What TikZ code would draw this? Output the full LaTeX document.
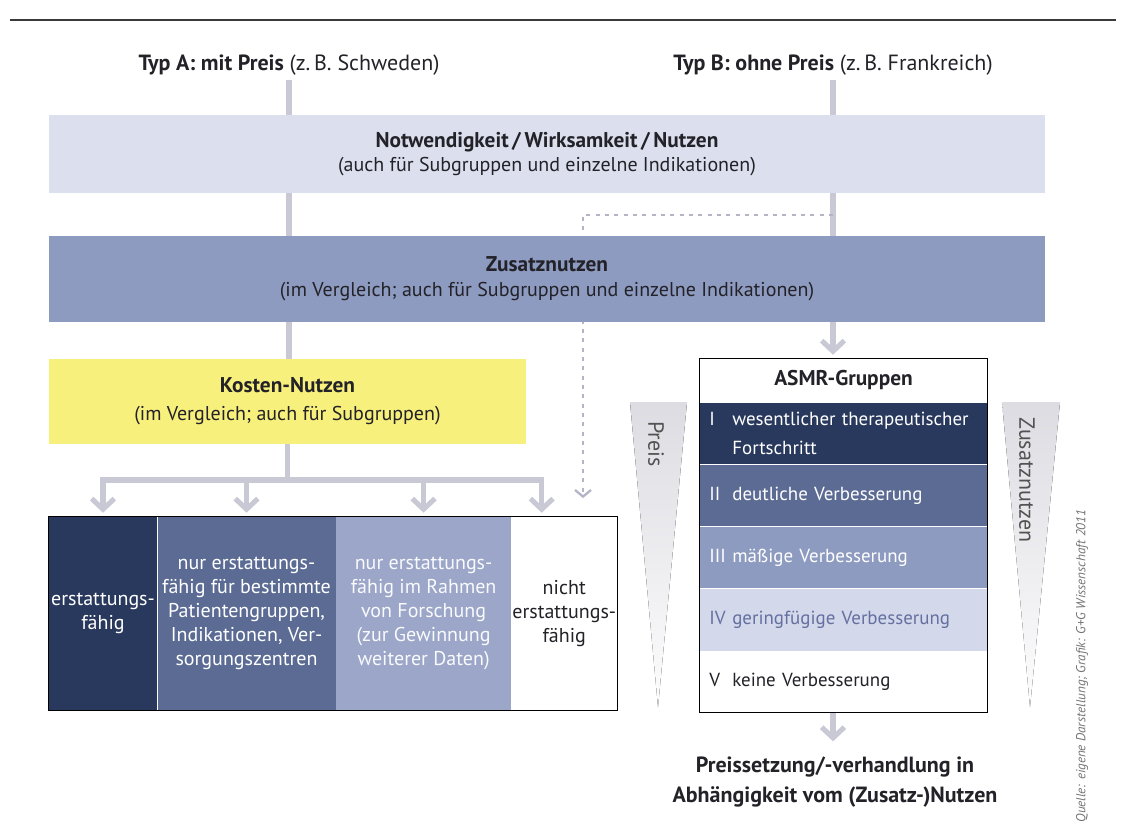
\documentclass[tikz,border=0pt]{standalone}
\usepackage{fontspec}
\setmainfont{PT Sans}
\usepackage{tikz}
\usetikzlibrary{arrows.meta,positioning,backgrounds}
\definecolor{ink}{HTML}{222228}
\definecolor{rulegray}{HTML}{3A3A3A}
\definecolor{linkgray}{HTML}{C9C9D5}
\definecolor{dashgray}{HTML}{B4B4C6}
\definecolor{paleblue}{HTML}{DCE0EE}
\definecolor{midblue}{HTML}{8E9BC0}
\definecolor{kostgelb}{HTML}{F8F07C}
\definecolor{navy}{HTML}{29385D}
\definecolor{slate}{HTML}{5B6B94}
\definecolor{lavender}{HTML}{9BA6C8}
\definecolor{mist}{HTML}{D3D8EA}
\definecolor{mistink}{HTML}{6470A0}
\definecolor{wedge}{HTML}{DCDCE2}
\newcommand{\asmrnum}[1]{\makebox[17.25pt][l]{#1}}

\begin{document}
\begin{tikzpicture}[x=0.75pt, y=-0.75pt,
    every node/.style={text=ink},
    head/.style={font=\fontsize{16.5}{19}\selectfont},
    bigbox/.style={minimum width=747pt, inner sep=0pt, align=center, font=\fontsize{15}{18.5}\selectfont},
    colbox/.style={minimum height=144.75pt, inner sep=1pt, align=center, font=\fontsize{15}{18}\selectfont},
    asmrrow/.style={minimum width=215.25pt, minimum height=46.2pt, text width=201.25pt, inner xsep=7pt, inner ysep=0pt, align=left, font=\fontsize{14.2}{22}\selectfont},
    link/.style={draw=linkgray, line width=3.8pt},
    arr/.style={link, -{Straight Barb[length=8pt,width=17pt]}, shorten >=3pt},
    dashlink/.style={draw=dashgray, line width=1.7pt, dash pattern=on 3pt off 4pt, -{Straight Barb[length=5pt,width=12pt]}},
    wedgefill/.style={top color=wedge, bottom color=white!94!wedge, draw=none}
]
    \useasboundingbox (0,0) rectangle (1126,839);
    \draw[rulegray, line width=1.8pt] (10,20) -- (1116,20);

    % Kopfzeilen
    \node[head] (typA) at (289,65) {\textbf{Typ A: mit Preis} (z.\,B. Schweden)};
    \node[head] (typB) at (833,65) {\textbf{Typ B: ohne Preis} (z.\,B. Frankreich)};

    % Stufen
    \node[bigbox, fill=paleblue, minimum height=58.5pt] (notw) at (547,154) {
        {\bfseries\fontsize{16}{18.5}\selectfont Notwendigkeit\,/\,Wirksamkeit\,/\,Nutzen}\\
        (auch für Subgruppen und einzelne Indikationen)
    };
    \node[bigbox, fill=midblue, minimum height=64.5pt] (zus) at (547,279) {
        {\bfseries\fontsize{16}{18.5}\selectfont Zusatznutzen}\\
        (im Vergleich; auch für Subgruppen und einzelne Indikationen)
    };
    \node[bigbox, fill=kostgelb, minimum width=357.75pt, minimum height=63.75pt, font=\fontsize{15}{21}\selectfont] (kosten) at (287.5,401.5) {
        {\bfseries\fontsize{16}{21}\selectfont Kosten-Nutzen}\\
        (im Vergleich; auch für Subgruppen)
    };

    % Erstattung (Typ A)
    \node[colbox, fill=navy, text=white, minimum width=81pt] (erst) at (103,613.5) {erstattungs-\\fähig};
    \node[colbox, fill=slate, text=white, minimum width=133.5pt, right=0pt of erst] (nurbest) {
        nur erstattungs-\\fähig für bestimmte\\Patientengruppen,\\Indikationen, Ver-\\sorgungszentren};
    \node[colbox, fill=lavender, text=white!94!lavender, minimum width=131.25pt, right=0pt of nurbest] (nurfor) {
        nur erstattungs-\\fähig im Rahmen\\von Forschung\\(zur Gewinnung\\weiterer Daten)};
    \node[colbox, fill=white, minimum width=78.75pt, right=0pt of nurbest, xshift=131.25pt] (nicht) {nicht\\erstattungs-\\fähig};
    \draw[black, line width=0.8pt] (erst.north west) rectangle (nicht.south east);

    % ASMR (Typ B)
    \node[minimum width=215.25pt, minimum height=32.25pt, inner sep=0pt, font=\bfseries\fontsize{16}{19}\selectfont] (asmrkopf) at (843.5,380.5) {ASMR-Gruppen};
    \node[asmrrow, fill=navy, text=white, below=0pt of asmrkopf] (asmrI) {\asmrnum{I}\parbox[t]{186pt}{\raggedright wesentlicher therapeutischer\\Fortschritt}};
    \node[asmrrow, fill=slate, text=white, below=0pt of asmrI] (asmrII) {\asmrnum{II}deutliche Verbesserung};
    \node[asmrrow, fill=midblue, text=white, below=0pt of asmrII] (asmrIII) {\asmrnum{III}mäßige Verbesserung};
    \node[asmrrow, fill=mist, text=mistink, below=0pt of asmrIII] (asmrIV) {\asmrnum{IV}geringfügige Verbesserung};
    \node[asmrrow, fill=white, below=0pt of asmrIV] (asmrV) {\asmrnum{V}keine Verbesserung};
    \draw[black, line width=0.8pt] (asmrkopf.north west) rectangle (asmrV.south east);

    % Keile
    \fill[wedgefill] (630,402) -- (687,402) -- (658,707) -- cycle;
    \fill[wedgefill] (1002,402) -- (1060,402) -- (1030,707) -- cycle;
    \node[rotate=-90, text=black!68, font=\fontsize{16.5}{19}\selectfont] (preis) at (656,444) {Preis};
    \node[rotate=-90, text=black!68, font=\fontsize{16.5}{19}\selectfont] (zusnutz) at (1027,480) {Zusatznutzen};

    \node[align=center, font=\bfseries\fontsize{16.5}{22.5}\selectfont] (verhandlung) at (835,782) {
        Preissetzung/-verhandlung in\\Abhängigkeit vom (Zusatz-)Nutzen};

    \node[rotate=90, anchor=east, text=black!55, font=\itshape\fontsize{9.8}{12}\selectfont] (quelle) at (1082,505) {Quelle: eigene Darstellung; Grafik: G+G Wissenschaft 2011};

    % Verbindungen
    \coordinate (split) at (287.5,480);
    \coordinate (nichtin) at ([xshift=-16.9pt]nicht.north);
    \coordinate (knick) at (583,215);
    \begin{scope}[on background layer]
        \draw[link] (typA.south) -- (typA.south |- kosten.north);
        \draw[link] (typB.south) -- (typB.south |- zus.south);
        \draw[dashlink, shorten >=14pt] (typB.south |- knick) -- (knick) -- (knick |- nicht.north);
    \end{scope}
    \draw[arr] (typB.south |- zus.south) -- (typB.south |- asmrkopf.north);
    \draw[link] (kosten.south) -- (split);
    \foreach \ziel in {erst.north, nurbest.north, nurfor.north, nichtin}
        \draw[arr] (split) -| (\ziel);
    \draw[arr, shorten >=8pt] (typB.south |- asmrV.south) -- (typB.south |- verhandlung.north);
\end{tikzpicture}
\end{document}
